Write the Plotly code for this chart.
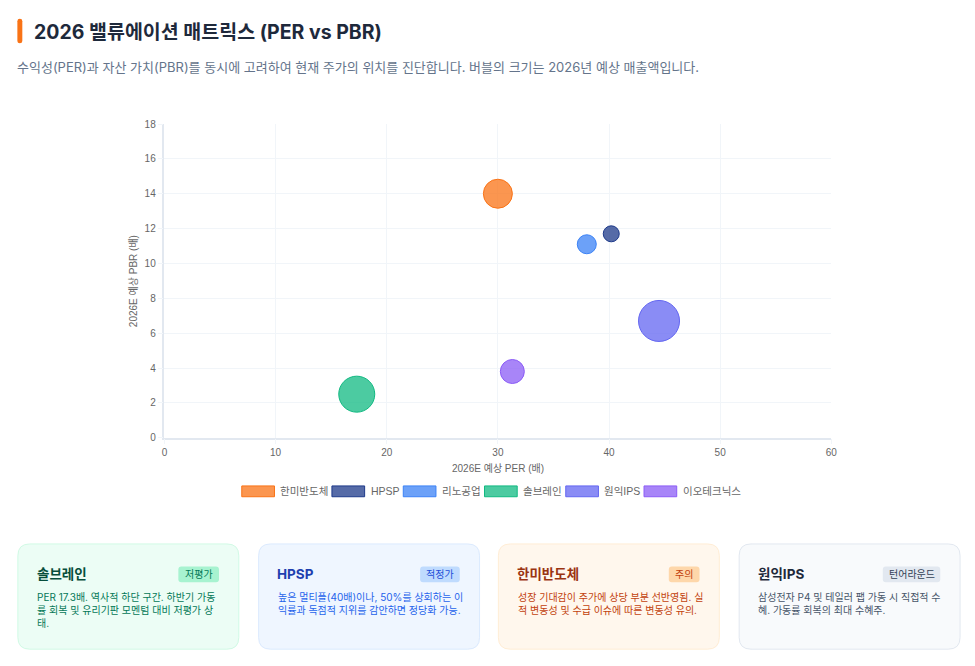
import plotly.graph_objects as go

# ---------------- data ----------------
companies = ["한미반도체", "HPSP", "리노공업", "솔브레인", "원익IPS", "이오테크닉스"]
per_2026 = [30.0, 40.2, 38.0, 17.3, 44.5, 31.3]
pbr_2026 = [14.0, 11.7, 11.1, 2.5, 6.7, 3.8]
revenue_2026 = [7250, 4000, 4750, 9000, 10250, 6000]  # bubble size basis

x_ticks = [0, 10, 20, 30, 40, 50, 60]
y_ticks = [0, 2, 4, 6, 8, 10, 12, 14, 16, 18]

card_names = ["솔브레인", "HPSP", "한미반도체", "원익IPS"]
card_badges = ["저평가", "적정가", "주의", "턴어라운드"]
card_texts = [
    "PER 17.3배. 역사적 하단 구간. 하반기 가동<br>률 회복 및 유리기판 모멘텀 대비 저평가 상<br>태.",
    "높은 멀티플(40배)이나, 50%를 상회하는 이<br>익률과 독점적 지위를 감안하면 정당화 가능.",
    "성장 기대감이 주가에 상당 부분 선반영됨. 실<br>적 변동성 및 수급 이슈에 따른 변동성 유의.",
    "삼성전자 P4 및 테일러 팹 가동 시 직접적 수<br>혜. 가동률 회복의 최대 수혜주.",
]

title_text = "2026 밸류에이션 매트릭스 (PER vs PBR)"
subtitle_text = "수익성(PER)과 자산 가치(PBR)를 동시에 고려하여 현재 주가의 위치를 진단합니다. 버블의 크기는 2026년 예상 매출액입니다."

# ---------------- styles ----------------
W, H = 975, 666
line_colors = ["#f97316", "#1e3a8a", "#3b82f6", "#10b981", "#6366f1", "#8b5cf6"]


def rgba(hexc, a):
    h = hexc.lstrip("#")
    r, g, b = int(h[0:2], 16), int(h[2:4], 16), int(h[4:6], 16)
    return f"rgba({r},{g},{b},{a})"


fill_colors = [rgba(c, 0.75) for c in line_colors]

FONT_UI = "Inter, 'Noto Sans CJK KR', sans-serif"
FONT_CHART = "'Liberation Sans', Arial, 'Noto Sans CJK KR', sans-serif"


def px(x):
    return x / W


def py(y):
    return 1 - y / H


def rounded_rect(x0, y0, x1, y1, r):
    X0, X1 = px(x0), px(x1)
    Y0, Y1 = py(y0), py(y1)
    rx, ry = r / W, r / H
    return (
        f"M {X0 + rx},{Y0} L {X1 - rx},{Y0} Q {X1},{Y0} {X1},{Y0 - ry} "
        f"L {X1},{Y1 + ry} Q {X1},{Y1} {X1 - rx},{Y1} "
        f"L {X0 + rx},{Y1} Q {X0},{Y1} {X0},{Y1 + ry} "
        f"L {X0},{Y0 - ry} Q {X0},{Y0} {X0 + rx},{Y0} Z"
    )


fig = go.Figure()

for i, name in enumerate(companies):
    fig.add_trace(
        go.Scatter(
            x=[per_2026[i]],
            y=[pbr_2026[i]],
            mode="markers",
            name=name,
            marker=dict(
                size=[revenue_2026[i] / 250.0],
                sizemode="diameter",
                color=fill_colors[i],
                opacity=1,
                line=dict(color=line_colors[i], width=1),
            ),
            showlegend=False,
            hovertemplate=f"{name}<br>PER %{{x}}<br>PBR %{{y}}<extra></extra>",
        )
    )

plot_l, plot_r, plot_t, plot_b = 163, 836, 121, 440

shapes = []
annotations = []

# title bar
shapes.append(dict(type="path", path=rounded_rect(14.5, 14, 19.5, 39, 2.5),
                   fillcolor="#f97316", line=dict(width=0), xref="paper", yref="paper"))
annotations.append(dict(text=f"<b>{title_text}</b>", x=px(29.5), y=py(27), xref="paper", yref="paper",
                        xanchor="left", yanchor="middle", showarrow=False,
                        font=dict(family=FONT_UI, size=19.5, color="#1e293b")))
annotations.append(dict(text=subtitle_text, x=px(12.5), y=py(63), xref="paper", yref="paper",
                        xanchor="left", yanchor="middle", showarrow=False,
                        font=dict(family=FONT_UI, size=13, color="#64748b")))

# axis titles
annotations.append(dict(text="2026E 예상 PER (배)", x=px(500), y=py(471), xref="paper", yref="paper",
                        xanchor="center", yanchor="middle", showarrow=False,
                        font=dict(family=FONT_CHART, size=10, color="#666666")))
annotations.append(dict(text="2026E 예상 PBR (배)", x=px(132), y=py(281), xref="paper", yref="paper",
                        xanchor="center", yanchor="middle", showarrow=False, textangle=-90,
                        font=dict(family=FONT_CHART, size=10, color="#666666")))

# legend (chart.js style boxes)
legend_box_x = [241, 332, 404, 486, 568, 647]
for i, name in enumerate(companies):
    bx = legend_box_x[i]
    shapes.append(dict(type="rect", xref="paper", yref="paper",
                       x0=px(bx), x1=px(bx + 33), y0=py(500), y1=py(489),
                       fillcolor=fill_colors[i], line=dict(color=line_colors[i], width=1)))
    annotations.append(dict(text=name, x=px(bx + 37), y=py(494.5), xref="paper", yref="paper",
                            xanchor="left", yanchor="middle", showarrow=False,
                            font=dict(family=FONT_CHART, size=10.5, color="#666666")))

# cards
card_x = [15, 258, 500, 743]
card_w = 223
card_bg = ["#ecfdf5", "#eff6ff", "#fff7ed", "#f8fafc"]
card_border = ["#d1fae5", "#dbeafe", "#ffedd5", "#e2e8f0"]
card_title_c = ["#064e3b", "#1e40af", "#9a3412", "#1e293b"]
badge_bg = ["#a7f3d0", "#bfdbfe", "#fed7aa", "#e2e8f0"]
badge_fg = ["#047857", "#1d4ed8", "#c2410c", "#334155"]
badge_w = [41, 40, 31, 58]
body_c = ["#047857", "#2563eb", "#c2410c", "#475569"]

for i in range(4):
    x0 = card_x[i]
    shapes.append(dict(type="path", path=rounded_rect(x0, 548, x0 + card_w, 655, 12),
                       fillcolor=card_bg[i], line=dict(color=card_border[i], width=1),
                       xref="paper", yref="paper"))
    annotations.append(dict(text=f"<b>{card_names[i]}</b>", x=px(x0 + 17), y=py(579), xref="paper", yref="paper",
                            xanchor="left", yanchor="middle", showarrow=False,
                            font=dict(family=FONT_UI, size=13.5, color=card_title_c[i])))
    bx1 = x0 + card_w - 20
    bx0 = bx1 - badge_w[i]
    shapes.append(dict(type="path", path=rounded_rect(bx0, 571, bx1, 587, 3),
                       fillcolor=badge_bg[i], line=dict(width=0), xref="paper", yref="paper"))
    annotations.append(dict(text=card_badges[i], x=px((bx0 + bx1) / 2), y=py(579), xref="paper", yref="paper",
                            xanchor="center", yanchor="middle", showarrow=False,
                            font=dict(family=FONT_UI, size=10, color=badge_fg[i])))
    for k, line in enumerate(card_texts[i].split("<br>")):
        annotations.append(dict(text=line, x=px(x0 + 17.5), y=py(602 + 13 * k), xref="paper", yref="paper",
                                xanchor="left", yanchor="middle", align="left", showarrow=False,
                                font=dict(family=FONT_UI, size=10, color=body_c[i])))

fig.update_layout(
    autosize=True,
    margin=dict(l=0, r=0, t=0, b=0),
    paper_bgcolor="#ffffff",
    plot_bgcolor="#ffffff",
    showlegend=False,
    shapes=shapes,
    annotations=annotations,
    xaxis=dict(domain=[px(plot_l), px(plot_r)], range=[0, 60], tickvals=x_ticks,
               showgrid=True, gridcolor="#f1f5f9", gridwidth=1,
               showline=True, linecolor="#e2e8f0", linewidth=1.5, zeroline=False,
               ticks="outside", ticklen=5, tickcolor="#f1f5f9",
               tickfont=dict(family=FONT_CHART, size=10, color="#666666"), fixedrange=True),
    yaxis=dict(domain=[py(plot_b), py(plot_t)], range=[0, 18], tickvals=y_ticks,
               showgrid=True, gridcolor="#f1f5f9", gridwidth=1,
               showline=True, linecolor="#e2e8f0", linewidth=1.5, zeroline=False,
               ticks="outside", ticklen=5, tickcolor="#f1f5f9",
               tickfont=dict(family=FONT_CHART, size=10, color="#666666"), fixedrange=True),
)

post = """
document.documentElement.style.height='100%';
document.documentElement.style.margin='0';
document.body.style.margin='0';
document.body.style.padding='0';
document.body.style.height='100%';
document.body.style.overflow='hidden';
var gd = document.getElementById('{plot_id}');
gd.parentElement.style.height='100%';
gd.parentElement.style.width='100%';
gd.style.height='100%';
gd.style.width='100%';
Plotly.Plots.resize(gd);
"""

fig.write_html("out.html", config={"displayModeBar": False, "responsive": True},
               default_width="100%", default_height="100%", post_script=post)
